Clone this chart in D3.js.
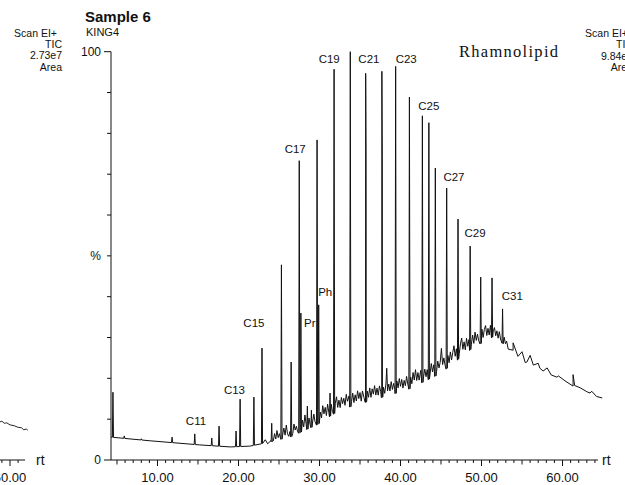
<!DOCTYPE html>
<html><head><meta charset="utf-8">
<script src="https://cdn.jsdelivr.net/npm/d3@7"></script>
<style>body{margin:0;background:#fff}svg{display:block}text{font-family:"Liberation Sans",Arial,sans-serif;fill:#111}</style>
</head><body><svg id="c" width="625" height="485"></svg>
<script>
// baseline of the chromatogram (rt, %)
const baseline = [[4.26,5.6],[9.1,4.7],[15.2,3.7],[19.0,3.2],[21.4,3.4],[23.9,4.4],[26.4,5.6],[29.7,8.6],[32.5,12.2],[36.6,14.7],[40.8,17.1],[44.9,21.1],[48.9,27.4],[51.4,30.1],[52.3,28.9],[53.9,26.9],[55.6,24.0],[57.2,22.5],[59.3,20.3],[61.3,18.1],[63.4,16.4],[64.9,15.2]];
// peaks (rt, apex %)
const peaks = [[4.5,16.6],[5.9,5.9],[8.0,5.2],[11.8,5.6],[14.6,6.4],[16.7,5.4],[17.6,8.3],[19.7,7.1],[20.2,14.9],[21.9,15.4],[22.9,27.4],[24.1,9.0],[25.3,47.8],[26.5,24.0],[27.5,73.3],[27.7,36.0],[28.5,13.2],[29.0,12.2],[29.7,78.4],[29.9,38.0],[31.3,16.4],[31.8,95.7],[33.8,100],[35.7,94.7],[35.75,74.0],[37.7,95.2],[37.75,74.5],[39.4,96.4],[41.1,88.9],[42.7,84.3],[43.5,82.6],[44.3,71.5],[45.7,66.6],[47.1,59.0],[48.6,52.4],[49.9,44.8],[51.3,44.6],[52.6,37.0]];
// trace noise (rt, offset from baseline %)
const noise = [[23.3,0.8],[23.6,-0.3],[24.0,0.3],[24.15,1.2],[24.3,0.1],[24.45,1.8],[24.6,0.4],[24.75,2.4],[24.9,0.6],[25.05,1.5],[25.2,0.2],[25.45,1.0],[25.6,2.6],[25.75,0.8],[25.9,3.2],[26.05,1.0],[26.2,0.3],[26.35,1.4],[26.7,0.6],[26.85,2.8],[27.0,1.2],[27.15,2.0],[27.3,0.5],[27.9,2.8],[28.05,1.0],[28.2,3.8],[28.35,1.4],[28.7,2.6],[28.85,0.8],[29.15,1.2],[29.3,3.0],[29.45,1.0],
[30.1,2.6],[30.25,1.0],[30.4,3.8],[30.55,1.6],[30.7,3.0],[30.85,0.8],[31.0,3.4],[31.15,1.2],[31.45,2.8],[31.6,0.8],[31.95,2.4],[32.1,3.8],[32.25,1.0],[32.4,2.6],[32.55,0.6],[32.7,3.0],[32.85,1.4],[33.0,2.6],[33.15,0.8],[33.3,3.4],[33.45,1.6],[33.65,2.8],[33.95,1.2],[34.1,3.2],[34.25,0.8],[34.4,2.6],[34.55,1.0],[34.7,3.4],[34.85,1.4],[35.0,2.8],[35.15,0.6],[35.3,3.0],[35.5,1.2],[35.9,2.6],[36.05,1.0],[36.2,3.2],[36.35,0.8],[36.5,2.8],[36.65,1.4],[36.8,3.4],[36.95,1.0],[37.1,2.6],[37.25,0.8],[37.4,3.0],[37.55,1.6],[37.9,2.4],[38.05,0.8],[38.2,3.0],[38.3,6.8],[38.4,1.2],[38.55,2.8],[38.7,1.0],[38.85,3.2],[39.0,1.2],[39.15,2.6],[39.3,1.0],[39.55,3.0],[39.7,1.2],[39.85,3.4],[40.0,1.4],
[40.15,3.0],[40.3,0.8],[40.45,2.6],[40.6,1.2],[40.75,3.4],[40.9,1.4],[41.25,2.8],[41.4,1.0],[41.55,3.6],[41.7,1.6],[41.85,4.0],[42.0,1.2],[42.15,3.0],[42.3,1.0],[42.5,3.2],[42.85,1.4],[43.0,3.0],[43.15,1.0],[43.3,2.6],[43.65,1.2],[43.8,3.6],[43.95,1.4],[44.1,3.0],[44.45,1.0],[44.6,3.4],[44.75,1.6],[44.9,2.8],[45.05,6.0],[45.2,1.8],[45.35,3.2],[45.5,1.2],[45.85,3.0],[46.0,1.0],[46.15,3.4],[46.3,1.2],[46.45,2.8],[46.6,4.2],[46.75,1.4],[46.9,3.0],[47.25,1.2],[47.4,3.4],[47.55,4.6],[47.7,1.6],[47.85,3.2],[48.0,1.0],[48.15,3.6],[48.3,1.4],[48.45,2.8],[48.75,1.2],[48.9,3.2],[49.05,1.0],[49.2,3.6],[49.35,1.4],[49.5,2.8],[49.65,1.0],[50.05,3.4],[50.2,1.2],[50.35,3.0],[50.5,3.8],[50.65,1.2],[50.8,2.8],[50.95,1.0],[51.1,3.2],[51.45,1.6],[51.6,2.6],[51.75,0.8],[51.9,2.2],[52.05,0.6],[52.2,2.4],[52.35,0.8],[52.8,1.8],[52.95,0.4],[53.1,1.2],[53.3,-0.5],
[53.9,1.8],[54.5,-0.5],[55.0,1.5],[55.4,-0.5],[56.0,2.0],[56.4,0.0],[57.0,1.0],[57.6,-0.3],[58.1,1.0],[58.6,-0.2],[59.5,0.5],[60.3,0.2],[61.3,2.8],[61.5,0.3],[62.2,0.3],[63.0,0.0],[63.6,0.6],[64.2,-0.2]];
// peak labels (text, rt, % of text baseline)
const peakLabels = [["C11",14.75,8.6],["C13",19.5,16.2],["C15",21.9,32.6],["Pr",28.8,32.6],["Ph",30.7,40.2],["C17",27.0,75.2],["C19",31.2,97.2],["C21",36.1,97.2],["C23",40.7,97.2],["C25",43.5,85.7],["C27",46.6,68.3],["C29",49.2,54.6],["C31",53.8,39.2]];
const xMinorTicks = d3.range(5, 65);
const xMajorTicks = [10,20,30,40,50,60];
const xTickLabels = ["10.00","20.00","30.00","40.00","50.00","60.00"];
const yTickValues = [0,10,20,30,40,50,60,70,80,90,100];
const yTickLabels = ["0","","","","","%","","","","","100"];
// neighbouring (cut-off) panel on the left
const leftTrace = [[58.7,9.3],[59.0,9.5],[59.3,9.0],[59.6,9.1],[60.0,8.6],[60.5,8.4],[61.0,8.0],[61.4,7.9],[61.7,7.4],[62.0,7.6],[62.2,7.3]];
const leftTicks = [59,60,61];
const headerLeft = ["Scan EI+","TIC","2.73e7","Area"];
const headerRight = ["Scan EI+","TIC","9.84e7","Area"];
const title = "Sample 6", subtitle = "KING4", note = "Rhamnolipid";

const svg = d3.select("#c");
const x = d3.scaleLinear().domain([4.26,64.38]).range([111,598]);
const y = d3.scaleLinear().domain([0,100]).range([460,51.7]);
const base = d3.scaleLinear().domain(baseline.map(d=>d[0])).range(baseline.map(d=>d[1])).clamp(true);

// build trace
const pts = [];
baseline.forEach(d => { if (d[0] < 23 || d[0] > 53) pts.push([d[0], d[1]]); });
noise.forEach(d => pts.push([d[0], base(d[0]) + d[1]]));
const w = 0.07;
peaks.forEach(d => { pts.push([d[0]-w, base(d[0]-w)]); pts.push([d[0], d[1]]); pts.push([d[0]+w, base(d[0]+w)]); });
pts.sort((a,b)=>a[0]-b[0]);
const line = d3.line().x(d=>x(d[0])).y(d=>y(d[1]));
svg.append("path").attr("d", line(pts)).attr("fill","none").attr("stroke","#111").attr("stroke-width",1).attr("stroke-linejoin","round");

// x axis
const gx = svg.append("g").attr("transform","translate(0,460)");
gx.append("line").attr("x1",111).attr("x2",598).attr("stroke","#111");
gx.selectAll("line.t").data(xMinorTicks).join("line").attr("class","t")
  .attr("x1",d=>x(d)).attr("x2",d=>x(d)).attr("y1",0).attr("y2",d=> d%10===0?6:(d%5===0?4.5:3)).attr("stroke","#111");
gx.selectAll("text").data(xMajorTicks).join("text").attr("x",d=>x(d)).attr("y",22).attr("text-anchor","middle")
  .attr("font-size",13).text((d,i)=>xTickLabels[i]);
svg.append("text").attr("x",602).attr("y",465).attr("font-size",14).text("rt");

// y axis
const gy = svg.append("g");
gy.append("line").attr("x1",111).attr("x2",111).attr("y1",y(0)).attr("y2",y(100)).attr("stroke","#111");
gy.selectAll("line.t").data(yTickValues).join("line").attr("class","t")
  .attr("x1",d=> (d===0||d===100)?104:107).attr("x2",111).attr("y1",d=>y(d)).attr("y2",d=>y(d)).attr("stroke","#111");
gy.selectAll("text").data(yTickValues).join("text").attr("x",101).attr("y",d=>y(d)).attr("dy","0.35em")
  .attr("text-anchor","end").attr("font-size",12).text((d,i)=>yTickLabels[i]);

// peak labels
svg.selectAll("text.pl").data(peakLabels).join("text").attr("class","pl")
  .attr("x",d=>x(d[1])).attr("y",d=>y(d[2])).attr("text-anchor","middle").attr("font-size",11.5).attr("fill","#222").text(d=>d[0]);

// header
svg.append("text").attr("x",85).attr("y",21.7).attr("font-size",15).attr("font-weight","bold").text(title);
svg.append("text").attr("x",86).attr("y",36).attr("font-size",11).text(subtitle);
headerLeft.forEach((t,i)=> svg.append("text").attr("x", i===0?57:62).attr("y",36.7+i*11.3).attr("text-anchor","end").attr("font-size",10.5).text(t));
headerRight.forEach((t,i)=> svg.append("text").attr("x", i===0?628:633).attr("y",37.3+i*11.1).attr("text-anchor","end").attr("font-size",10.5).text(t));
svg.append("text").attr("x",459).attr("y",56.5).attr("font-size",16.5).attr("style","font-family:'Liberation Serif','Times New Roman',serif")
  .attr("textLength",99).attr("lengthAdjust","spacing").text(note);

// left cut-off panel
const xl = d3.scaleLinear().domain([60,61.85]).range([10,25]);
svg.append("path").attr("d", d3.line().x(d=>xl(d[0])).y(d=>y(d[1]))(leftTrace)).attr("fill","none").attr("stroke","#111").attr("stroke-width",0.9);
svg.append("line").attr("x1",0).attr("x2",25).attr("y1",460).attr("y2",460).attr("stroke","#111");
svg.selectAll("line.lt").data(leftTicks).join("line").attr("class","lt").attr("x1",d=>xl(d)).attr("x2",d=>xl(d)).attr("y1",460).attr("y2",d=>d===60?466:463).attr("stroke","#111");
svg.append("text").attr("x",xl(60)).attr("y",482).attr("text-anchor","middle").attr("font-size",13).text("60.00");
svg.append("text").attr("x",36).attr("y",465).attr("font-size",14).text("rt");
</script></body></html>
